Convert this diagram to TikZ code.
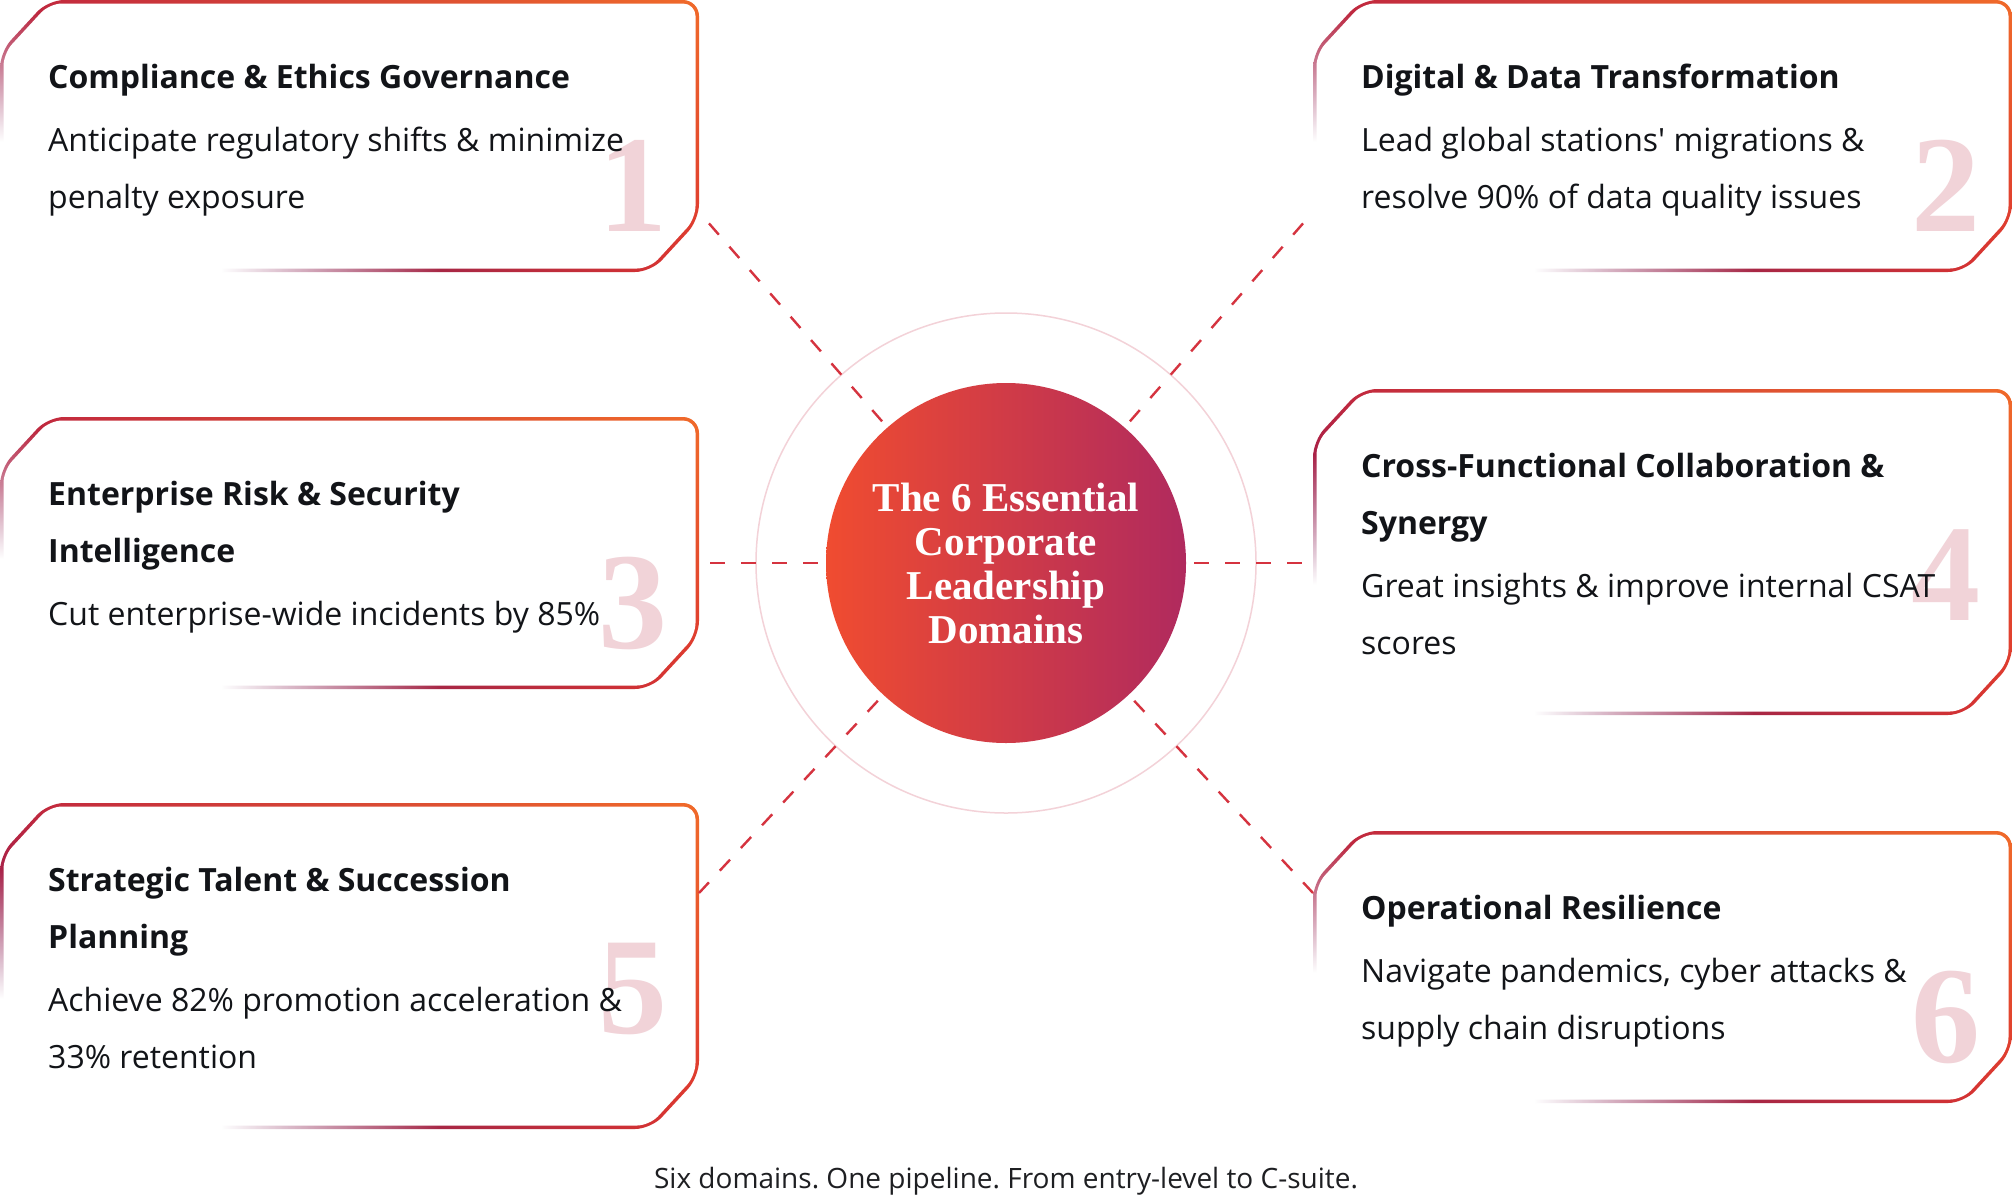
\documentclass[tikz,border=0pt]{standalone}
\usepackage{fontspec}
\setmainfont{Open Sans}
\newfontfamily\domserif{Liberation Serif}
\usetikzlibrary{fadings,shadings}
\definecolor{edgeA}{HTML}{C0263F}
\definecolor{edgeB}{HTML}{F06A2A}
\definecolor{edgeC}{HTML}{DC3430}
\definecolor{edgeD}{HTML}{4E1068}
\definecolor{hubA}{HTML}{F04C30}
\definecolor{hubB}{HTML}{D03434}
\definecolor{hubC}{HTML}{B02A5E}
\definecolor{linkred}{HTML}{D5333F}
\definecolor{ringpink}{HTML}{F3D2D8}
\definecolor{numpink}{HTML}{F1D3D8}
\definecolor{inkdark}{HTML}{121418}
\definecolor{inkgray}{HTML}{1E1F22}
% white corner that hides the lower left part of each frame
\pgfdeclareradialshading{cornershade}{\pgfpoint{0bp}{0bp}}{color(0bp)=(white); color(12.5bp)=(white); color(25bp)=(black); color(50bp)=(black)}
\pgfdeclarefading{cornerfade}{\pgfuseshading{cornershade}}
\begin{document}
\begin{tikzpicture}[x=1pt,y=-1pt,
  cardarea/.style={inner sep=0pt,outer sep=0pt},
  cardtext/.style={anchor=north west,inner sep=0pt,align=left,text=inkdark,font=\fontsize{32}{57}\selectfont},
  numeral/.style={anchor=north east,inner sep=0pt,text=numpink,font=\domserif\bfseries\fontsize{138}{138}\selectfont},
  hubnode/.style={circle,minimum size=360pt,inner sep=0pt,left color=hubA,middle color=hubB,right color=hubC,text=white,align=center,font=\domserif\bfseries\fontsize{41}{44}\selectfont},
  link/.style={draw=linkred,line width=2.4pt,dash pattern=on 15pt off 16pt,shorten <=8pt},
  ring/.style={draw=ringpink,line width=1.5pt},
  caption/.style={anchor=base,inner sep=0pt,text=inkgray,font=\fontsize{28}{30}\selectfont}]
\fill[white] (0,0) rectangle (2012,1202);
\useasboundingbox (0,0) rectangle (2012,1202);

% frames
\foreach \L/\T/\H [count=\n] in {0/0/272,1313/0/272,0/417/272,1313/389/326,0/803/326,1313/831/272}{
  \node[cardarea,minimum width=699pt,minimum height=\H pt] (c\n) at (\L+349.5,\T+\H/2) {};
  \shade[rounded corners=16pt,upper left=edgeA,upper right=edgeB,lower right=edgeC,lower left=edgeD]
    (\L,\T+120) -- (\L,\T+52) -- (\L+48,\T) -- (\L+699,\T) -- (\L+699,\T+\H-52) -- (\L+651,\T+\H) -- (\L,\T+\H) -- cycle;
  \fill[white,rounded corners=12.5pt]
    (\L+3.5,\T+120) -- (\L+3.5,\T+53.5) -- (\L+49.5,\T+3.5) -- (\L+695.5,\T+3.5) -- (\L+695.5,\T+\H-53.5) -- (\L+649.5,\T+\H-3.5) -- (\L+3.5,\T+\H-3.5) -- cycle;
  \begin{scope}
    \clip (\L-5,\T) rectangle (\L+699,\T+\H+5);
    \fill[white,path fading=cornerfade] (\L,\T+\H) ellipse[x radius=440,y radius=260];
  \end{scope}
  \node[numeral] (n\n) at (\L+668,\T+140) {\n};
}

% centre
\draw[ring] (1006,563) circle[radius=250pt];
\node[hubnode] (hub) at (1006,563) {The 6 Essential\\Corporate\\Leadership\\Domains};

\draw[link] (hub) -- ([yshift=-212pt]c1.north east);
\draw[link] (hub) -- ([yshift=-212pt]c2.north west);
\draw[link] (hub) -- (c3.east |- hub.center);
\draw[link] (hub) -- (c4.west |- hub.center);
\draw[link] (hub) -- ([yshift=-90pt]c5.north east);
\draw[link] (hub) -- ([yshift=-62pt]c6.north west);

% texts
\node[cardtext] (d1) at (48,58) {\rule{0pt}{30pt}\textbf{Compliance \& Ethics Governance}\\[6pt]Anticipate regulatory shifts \& minimize\\penalty exposure};
\node[cardtext] (d2) at (1361,58) {\rule{0pt}{30pt}\textbf{Digital \& Data Transformation}\\[6pt]Lead global stations\textquotesingle{} migrations \&\\resolve 90\% of data quality issues};
\node[cardtext] (d3) at (48,475) {\rule{0pt}{30pt}\textbf{Enterprise Risk \& Security}\\\textbf{Intelligence}\\[6pt]Cut enterprise-wide incidents by 85\%};
\node[cardtext] (d4) at (1361,447) {\rule{0pt}{30pt}\textbf{Cross-Functional Collaboration \&}\\\textbf{Synergy}\\[6pt]Great insights \& improve internal CSAT\\scores};
\node[cardtext] (d5) at (48,861) {\rule{0pt}{30pt}\textbf{Strategic Talent \& Succession}\\\textbf{Planning}\\[6pt]Achieve 82\% promotion acceleration \&\\33\% retention};
\node[cardtext] (d6) at (1361,889) {\rule{0pt}{30pt}\textbf{Operational Resilience}\\[6pt]Navigate pandemics, cyber attacks \&\\supply chain disruptions};

\node[caption] (cap) at (1006,1188) {\frenchspacing Six domains. One pipeline. From entry-level to C-suite.};
\end{tikzpicture}
\end{document}
